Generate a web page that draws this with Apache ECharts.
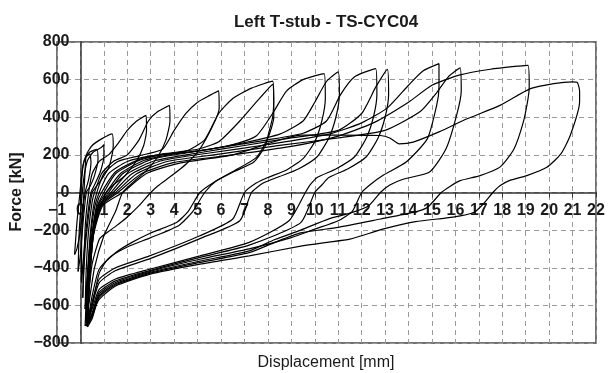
<!DOCTYPE html>
<html>
<head>
<meta charset="utf-8">
<script src="https://cdn.jsdelivr.net/npm/echarts@6/dist/echarts.min.js"></script>
<style>
html,body{margin:0;padding:0;background:#fff;}
#chart{width:614px;height:373px;}
</style>
</head>
<body>
<div id="chart"></div>
<script>
// Displacement [mm], Force [kN] pairs, one array per cycle
const cycleS1 = [[0.0,-60],[0.05,60],[0.12,150],[0.25,190],[0.4,205],[0.45,160],[0.35,70],[0.2,0],[0.1,-90],[0.0,-200],[-0.15,-300],[-0.25,-330]];
const cycleS2 = [[-0.25,-330],[-0.15,-160],[-0.02,0],[0.08,120],[0.2,185],[0.4,215],[0.7,230],[0.75,175],[0.6,90],[0.4,30],[0.25,0],[0.12,-150],[0.0,-330],[-0.1,-420]];
const cycleS3 = [[-0.1,-420],[-0.05,-200],[0.05,-40],[0.15,80],[0.3,170],[0.55,215],[0.9,240],[1.0,255],[1.0,195],[0.85,110],[0.6,40],[0.45,0],[0.3,-130],[0.15,-320],[0.05,-480],[0.05,-250]];
const cycle01 = [[0.05,-250],[0.1,-100],[0.15,0],[0.2,120],[0.25,200],[0.5,250],[0.9,285],[1.35,312],[1.4,250],[1.35,200],[1.2,130],[0.9,70],[0.6,20],[0.5,0],[0.35,-120],[0.2,-300],[0.12,-480],[0.1,-560]];
const cycle02 = [[0.1,-560],[0.15,-350],[0.22,-150],[0.35,0],[0.5,100],[0.8,165],[1.2,200],[1.6,260],[2.0,330],[2.4,380],[2.8,410],[2.82,330],[2.7,250],[2.4,170],[1.9,90],[1.4,40],[1.1,0],[0.8,-100],[0.5,-250],[0.3,-450],[0.2,-620]];
const cycle03 = [[0.2,-620],[0.25,-400],[0.35,-200],[0.5,-50],[0.6,0],[0.9,100],[1.4,165],[2.0,200],[2.5,280],[2.9,380],[3.3,430],[3.8,463],[3.82,380],[3.65,280],[3.3,190],[2.8,115],[2.3,60],[1.8,0],[1.5,-100],[1.0,-230],[0.6,-400],[0.35,-600],[0.25,-680]];
const cycle04 = [[0.25,-680],[0.3,-450],[0.4,-250],[0.55,-80],[0.7,0],[1.0,100],[1.6,165],[2.5,195],[3.5,230],[4.0,330],[4.5,420],[5.0,480],[5.5,515],[5.9,540],[5.92,445],[5.65,356],[5.1,232],[4.5,150],[3.9,90],[3.3,35],[3.0,0],[2.5,-70],[2.0,-130],[1.5,-180],[1.0,-225],[0.8,-250],[0.5,-380],[0.3,-600],[0.25,-690]];
const cycle05 = [[0.25,-690],[0.3,-450],[0.45,-220],[0.6,-80],[0.8,0],[1.2,100],[2.0,165],[3.0,195],[4.5,220],[5.3,280],[5.9,420],[6.5,500],[7.3,555],[8.2,592],[8.25,500],[8.2,400],[8.0,300],[7.9,250],[7.4,162],[6.5,108],[5.7,55],[5.1,0],[4.6,-100],[4.1,-159],[3.0,-215],[2.2,-265],[1.5,-320],[0.8,-408],[0.5,-550],[0.3,-700]];
const cycle06 = [[0.3,-700],[0.35,-450],[0.5,-220],[0.7,-60],[0.9,0],[1.5,110],[2.5,175],[3.5,205],[5.0,230],[5.9,270],[6.8,380],[7.5,480],[8.2,575],[8.25,400],[8.0,290],[7.5,185],[6.6,118],[5.8,62],[5.3,0],[4.8,-100],[4.2,-175],[3.0,-240],[2.0,-290],[1.2,-350],[0.8,-430],[0.5,-600],[0.3,-700]];
const cycle07 = [[0.3,-700],[0.35,-450],[0.5,-230],[0.7,-80],[1.0,0],[1.5,100],[2.5,170],[3.5,200],[5.0,220],[6.5,255],[7.5,300],[8.2,420],[8.8,540],[9.5,600],[10.4,632],[10.45,500],[10.3,380],[10.0,270],[9.5,180],[8.8,120],[8.0,80],[7.5,50],[7.0,0],[6.5,-141],[5.1,-230],[2.95,-337],[1.5,-400],[0.8,-461],[0.5,-580],[0.3,-690]];
const cycle08 = [[0.3,-690],[0.35,-450],[0.5,-230],[0.75,-70],[1.1,0],[1.7,100],[2.7,170],[4.0,205],[5.5,230],[7.0,265],[8.5,310],[9.5,380],[10.0,480],[10.5,590],[11.0,641],[11.05,520],[10.9,400],[10.6,290],[10.1,190],[9.3,125],[8.5,85],[7.8,50],[7.3,0],[6.8,-150],[5.1,-245],[3.0,-350],[1.5,-415],[0.8,-480],[0.5,-600],[0.3,-700]];
const cycle09 = [[0.3,-700],[0.4,-450],[0.55,-230],[0.8,-70],[1.2,0],[1.8,100],[3.0,175],[4.5,210],[6.0,240],[8.0,280],[9.5,315],[10.5,380],[11.1,520],[11.7,615],[12.6,659],[12.65,520],[12.5,400],[12.2,290],[11.7,190],[10.9,125],[10.1,80],[9.8,40],[9.6,0],[8.9,-150],[7.2,-265],[5.1,-337],[2.95,-408],[1.5,-460],[0.8,-515],[0.5,-620],[0.25,-705]];
const cycle10 = [[0.25,-705],[0.35,-450],[0.5,-230],[0.8,-70],[1.3,0],[2.0,100],[3.2,170],[5.0,210],[7.0,250],[9.0,290],[11.0,330],[12.0,420],[12.6,560],[13.1,655],[13.15,520],[13.0,400],[12.7,290],[12.2,190],[11.4,125],[10.6,80],[10.3,40],[10.0,0],[9.4,-160],[7.2,-280],[5.1,-345],[2.95,-415],[1.5,-470],[0.8,-530],[0.5,-640],[0.2,-710]];
const cycle11 = [[0.2,-710],[0.3,-450],[0.5,-230],[0.8,-70],[1.4,0],[2.2,100],[3.5,170],[5.5,210],[8.0,255],[10.6,310],[12.0,370],[13.1,450],[14.0,570],[14.6,645],[15.3,685],[15.3,560],[15.2,463],[14.8,285],[13.9,162],[12.9,90],[12.4,45],[12.0,0],[11.6,-100],[11.0,-150],[10.0,-195],[9.0,-240],[7.2,-300],[5.1,-355],[2.95,-420],[1.5,-478],[0.8,-540],[0.5,-650],[0.3,-700]];
const cycle12 = [[0.3,-700],[0.4,-450],[0.55,-230],[0.85,-70],[1.5,0],[2.4,100],[3.7,165],[6.0,205],[8.5,250],[11.0,290],[13.0,330],[14.5,430],[15.2,530],[15.7,615],[16.2,662],[16.25,540],[16.05,410],[15.6,232],[14.9,109],[13.8,72],[13.2,40],[12.8,0],[12.3,-70],[11.5,-110],[10.6,-140],[9.4,-200],[8.3,-250],[7.2,-310],[5.1,-365],[2.95,-425],[1.5,-485],[0.8,-550],[0.5,-660],[0.25,-710]];
const cycle13 = [[0.25,-710],[0.35,-450],[0.5,-230],[0.9,-70],[1.6,0],[2.6,100],[4.0,160],[6.5,200],[9.0,245],[11.0,300],[12.5,370],[14.0,480],[15.0,570],[16.2,625],[17.5,655],[18.7,672],[19.1,676],[19.15,560],[19.1,499],[18.9,375],[18.5,231],[17.9,135],[17.05,90],[16.2,63],[15.8,35],[15.4,0],[14.8,-80],[14.2,-106],[12.8,-141],[11.0,-185],[9.4,-215],[8.3,-265],[7.2,-320],[5.1,-372],[2.95,-430],[1.5,-490],[0.8,-558],[0.5,-670],[0.3,-715]];
const cycle14 = [[0.3,-715],[0.4,-450],[0.55,-230],[0.95,-70],[1.8,0],[2.8,100],[4.2,155],[6.5,200],[8.0,260],[9.4,305],[11.0,305],[12.8,303],[13.2,290],[13.6,259],[14.2,268],[15.3,322],[16.5,392],[17.9,463],[19.2,552],[20.2,579],[21.0,588],[21.2,585],[21.3,540],[21.3,483],[20.9,303],[20.5,205],[19.9,134],[19.05,90],[18.3,63],[17.9,36],[17.6,0],[17.2,-60],[16.8,-105],[15.9,-131],[14.3,-155],[12.9,-195],[11.5,-248],[10.5,-265],[9.4,-285],[7.2,-337],[5.1,-381],[2.95,-435],[1.5,-497],[0.8,-568],[0.5,-650],[0.35,-700]];

const cycles = [cycleS1, cycleS2, cycleS3, cycle01, cycle02, cycle03, cycle04, cycle05, cycle06, cycle07, cycle08, cycle09, cycle10, cycle11, cycle12, cycle13, cycle14];

const titleText = 'Left T-stub - TS-CYC04';
const xName = 'Displacement [mm]';
const yName = 'Force [kN]';
const xMin = -1, xMax = 22, xStep = 1;
const yMin = -800, yMax = 800, yStep = 200;

const chart = echarts.init(document.getElementById('chart'), null, {renderer: 'canvas'});
const fontFam = '"Liberation Sans", Arial, Helvetica, sans-serif';
const minusFmt = v => String(v).replace('-', '\u2212');
const gridL = 57, gridR = 18, gridT = 42, gridB = 30;

const option = {
  animation: false,
  backgroundColor: '#fff',
  grid: {left: gridL, right: gridR, top: gridT, bottom: gridB, show: true, borderColor: '#444', borderWidth: 1.5, backgroundColor: 'transparent'},
  xAxis: {
    type: 'value', min: xMin, max: xMax, interval: xStep, position: 'bottom', offset: 0,
    axisLine: {onZero: false, lineStyle: {color: '#333', width: 1.5}},
    axisTick: {show: true, length: 5, lineStyle: {color: '#333', width: 1}},
    axisLabel: {margin: 10, color: '#1a1a1a', fontWeight: 'bold', fontSize: 16, fontFamily: fontFam, formatter: minusFmt, showMinLabel: true, showMaxLabel: true, hideOverlap: false},
    splitLine: {show: true, lineStyle: {color: '#9a9a9a', width: 1, type: [5, 4]}}
  },
  yAxis: {
    type: 'value', min: yMin, max: yMax, interval: yStep, position: 'left', offset: 0,
    axisLine: {onZero: false, lineStyle: {color: '#333', width: 1.5}},
    axisTick: {show: false},
    axisLabel: {margin: 11, color: '#1a1a1a', fontWeight: 'bold', fontSize: 16, fontFamily: fontFam, formatter: minusFmt, showMinLabel: true, showMaxLabel: true},
    splitLine: {show: true, lineStyle: {color: '#9a9a9a', width: 1, type: [5, 4]}}
  },
  graphic: [
    {type: 'text', x: 326, y: 22, style: {text: titleText, font: 'bold 17px ' + fontFam, fill: '#1a1a1a', align: 'center', verticalAlign: 'middle'}},
    {type: 'text', x: 17, y: 192, rotation: Math.PI / 2, style: {text: yName, font: 'bold 16px ' + fontFam, fill: '#1a1a1a', align: 'center', verticalAlign: 'middle'}},
    {type: 'text', x: 326, y: 363, style: {text: xName, font: '16px ' + fontFam, fill: '#1a1a1a', align: 'center', verticalAlign: 'middle'}}
  ],
  series: cycles.map(d => ({
    type: 'line', data: d, symbol: 'none', smooth: 0.2, clip: true,
    lineStyle: {color: '#000', width: 1.2}, z: 3
  }))
};
chart.setOption(option);

// Move both axes (line + labels) onto the zero lines, using the chart's own scales
const zeroPx = chart.convertToPixel({gridIndex: 0}, [0, 0]);
const H = chart.getHeight();
const bottomPx = H - gridB;
chart.setOption({
  xAxis: {offset: zeroPx[1] - bottomPx},
  yAxis: {offset: -(zeroPx[0] - gridL)}
});
</script>
</body>
</html>
